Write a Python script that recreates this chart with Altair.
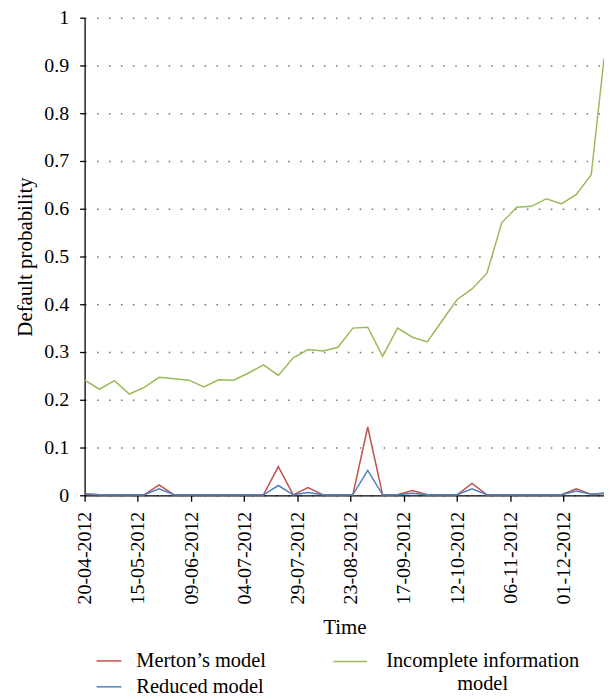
import altair as alt
import pandas as pd

dates = ["2012-04-20", "2012-04-27", "2012-05-04", "2012-05-11", "2012-05-18", "2012-05-25",
         "2012-06-01", "2012-06-08", "2012-06-15", "2012-06-22", "2012-06-29", "2012-07-06",
         "2012-07-13", "2012-07-20", "2012-07-27", "2012-08-03", "2012-08-10", "2012-08-17",
         "2012-08-24", "2012-08-31", "2012-09-07", "2012-09-14", "2012-09-21", "2012-09-28",
         "2012-10-05", "2012-10-12", "2012-10-19", "2012-10-26", "2012-11-02", "2012-11-09",
         "2012-11-16", "2012-11-23", "2012-11-30", "2012-12-07", "2012-12-14", "2012-12-20"]

merton = [0.002, 0.001, 0.001, 0.001, 0.001, 0.022,
          0.001, 0.001, 0.001, 0.001, 0.001, 0.001,
          0.001, 0.060, 0.001, 0.016, 0.001, 0.001,
          0.001, 0.143, 0.001, 0.001, 0.010, 0.001,
          0.001, 0.001, 0.025, 0.001, 0.001, 0.001,
          0.001, 0.001, 0.001, 0.0135, 0.002, 0.003]

reduced = [0.003, 0.001, 0.001, 0.001, 0.001, 0.0135,
           0.001, 0.001, 0.001, 0.001, 0.001, 0.001,
           0.001, 0.0205, 0.001, 0.006, 0.001, 0.001,
           0.001, 0.052, 0.001, 0.001, 0.0045, 0.001,
           0.001, 0.001, 0.0135, 0.001, 0.001, 0.001,
           0.001, 0.001, 0.001, 0.009, 0.002, 0.005]

incomplete = [0.241, 0.222, 0.240, 0.212, 0.226, 0.247,
              0.244, 0.241, 0.227, 0.242, 0.241, 0.256,
              0.273, 0.251, 0.288, 0.305, 0.302, 0.310,
              0.350, 0.352, 0.291, 0.350, 0.331, 0.321,
              0.366, 0.410, 0.432, 0.465, 0.571, 0.603,
              0.605, 0.621, 0.610, 0.630, 0.671, 0.914]

tick_dates = [(2012, 4, 20), (2012, 5, 15), (2012, 6, 9), (2012, 7, 4), (2012, 7, 29),
              (2012, 8, 23), (2012, 9, 17), (2012, 10, 12), (2012, 11, 6), (2012, 12, 1)]
y_ticks = [0, 0.1, 0.2, 0.3, 0.4, 0.5, 0.6, 0.7, 0.8, 0.9, 1]

M = "Merton’s model"
R = "Reduced model"
I = "Incomplete information model"

rows = []
for d, m, r, i in zip(dates, merton, reduced, incomplete):
    rows.append({"date": d, "value": m, "model": M})
    rows.append({"date": d, "value": r, "model": R})
    rows.append({"date": d, "value": i, "model": I})
df = pd.DataFrame(rows)

FONT = "Liberation Serif"
LAB = 20
TIT = 21

x_enc = alt.X(
    "date:T",
    scale=alt.Scale(type="utc",
                    domain=[alt.DateTime(year=2012, month=4, date=20, utc=True),
                            alt.DateTime(year=2012, month=12, date=20, utc=True)]),
    axis=alt.Axis(
        title="Time",
        values=[alt.DateTime(year=y, month=mo, date=da, utc=True) for (y, mo, da) in tick_dates],
        labelExpr="utcFormat(datum.value, '%d-%m-%Y')",
        labelAngle=270, labelPadding=10, tickSize=6, grid=False,
        titlePadding=13,
        labelFont=FONT, titleFont=FONT, labelFontSize=LAB, titleFontSize=TIT,
        titleFontWeight="normal",
    ),
)
y_enc = alt.Y(
    "value:Q",
    scale=alt.Scale(domain=[0, 1], nice=False, zero=True),
    axis=alt.Axis(
        title="Default probability",
        values=y_ticks, format=".1~f",
        tickSize=5, labelPadding=11, titlePadding=8,
        grid=True, gridDash=[1.6, 10.4], gridColor="#7a7a7a", gridWidth=1.6,
        labelFont=FONT, titleFont=FONT, labelFontSize=LAB, titleFontSize=TIT,
        titleFontWeight="normal",
    ),
)

base = alt.Chart(df)

red_blue = base.transform_filter(
    alt.FieldOneOfPredicate(field="model", oneOf=[M, R])
).mark_line(strokeWidth=1.5).encode(
    x=x_enc, y=y_enc,
    color=alt.Color("model:N",
                    scale=alt.Scale(domain=[M, R], range=["#c0504d", "#4f81bd"]),
                    legend=alt.Legend(title=None, orient="none", legendX=11, legendY=633,
                                      symbolType="stroke", symbolSize=625,
                                      symbolStrokeWidth=1.5, labelOffset=14,
                                      rowPadding=2, padding=0,
                                      labelFont=FONT, labelFontSize=20.5)),
)

green = base.transform_filter(
    alt.FieldEqualPredicate(field="model", equal=I)
).mark_line(strokeWidth=1.5).encode(
    x=x_enc, y=y_enc,
    stroke=alt.Stroke("model:N",
                      scale=alt.Scale(domain=[I], range=["#9bbb59"]),
                      legend=alt.Legend(title=None, orient="none", legendX=249, legendY=629,
                                        symbolType="stroke", symbolSize=1156,
                                        symbolStrokeWidth=1.5, labelOffset=115,
                                        labelAlign="center", labelBaseline="middle",
                                        labelExpr="['Incomplete information', 'model']",
                                        padding=0, labelFont=FONT, labelFontSize=20.5)),
)

chart = alt.layer(red_blue, green).properties(
    width=522, height=480,
    padding={"left": 77, "top": 8, "right": 0, "bottom": 203},
    autosize=alt.AutoSizeParams(type="none"),
).configure_view(stroke=None).configure_axis(
    labelFont=FONT, titleFont=FONT, labelColor="black", titleColor="black",
    domainColor="black", tickColor="black", domainWidth=1.3, tickWidth=1.3,
).configure_legend(
    labelFont=FONT, labelFontSize=20.5, labelColor="black", labelLimit=400,
)

chart.save("out.html", embed_options={"renderer": "svg", "actions": False})
